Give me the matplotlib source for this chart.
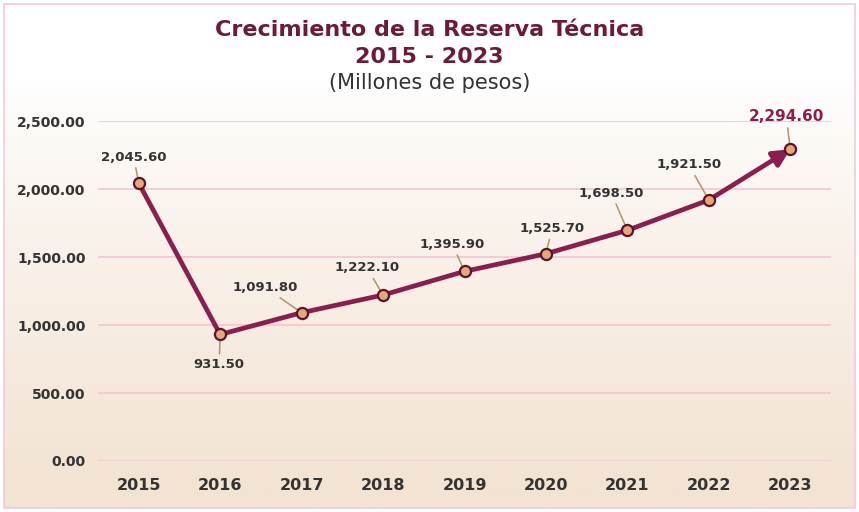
import numpy as np
import matplotlib
matplotlib.use("Agg")
import matplotlib.pyplot as plt
from matplotlib.patches import Rectangle

years = ["2015", "2016", "2017", "2018", "2019", "2020", "2021", "2022", "2023"]
reserva = [2045.6, 931.5, 1091.8, 1222.1, 1395.9, 1525.7, 1698.5, 1921.5, 2294.6]
y_ticks = [0, 500, 1000, 1500, 2000, 2500]

# label offsets in pixels (dx, dy) from each point
offsets = [(-5, 26), (-1, -30), (-36, 25), (-16, 27), (-12, 27),
           (6, 25), (-16, 37), (-20, 35), (-4, 33)]

maroon = "#8c1d4f"
title_col = "#6e1a36"
text_col = "#333333"

plt.rcParams["font.family"] = ["DejaVu Sans"]

fig = plt.figure(figsize=(8.59, 5.12), dpi=100)

# background: white at top fading to beige at bottom, thin pink border
bg = fig.add_axes([0, 0, 1, 1], zorder=-10)
bg.set_xlim(0, 1)
bg.set_ylim(0, 1)
bg.axis("off")
r = np.linspace(0, 1, 256).reshape(-1, 1)
c_top = np.array([1.0, 1.0, 1.0])
c_bot = np.array([0xf3, 0xe3, 0xd3]) / 255
t = np.clip((r - 0.15) / 0.8, 0, 1) ** 0.85
img = c_top + (c_bot - c_top) * t
x0, y0 = 4 / 859, 4 / 512
bg.imshow(img.reshape(256, 1, 3), extent=[x0, 1 - x0, y0, 1 - y0],
          aspect="auto", origin="upper")
bg.add_patch(Rectangle((x0, y0), 1 - 2 * x0, 1 - 2 * y0,
                       fill=False, edgecolor="#f2cbd8", linewidth=1.2))

ax = fig.add_axes([98 / 859, 1 - 461 / 512, 733 / 859, 340 / 512])
ax.set_facecolor("none")
x = np.arange(len(years))

ax.set_xlim(-0.5, len(years) - 0.5)
ax.set_ylim(0, 2503)
ax.set_yticks(y_ticks)
ax.set_yticklabels([f"{v:,.2f}" for v in y_ticks], fontsize=10, fontweight="bold", color=text_col)
ax.set_xticks(x)
ax.set_xticklabels(years, fontsize=11.5, fontweight="bold", color=text_col)
ax.tick_params(axis="both", length=0)
ax.tick_params(axis="y", pad=9)
ax.tick_params(axis="x", pad=12)
for s in ax.spines.values():
    s.set_visible(False)
ax.grid(axis="y", color="#f2c6d3", linewidth=1.2)
ax.set_axisbelow(True)

ax.plot(x[:-1], reserva[:-1], color=maroon, linewidth=3.4, zorder=3, solid_capstyle="round")
ax.annotate("", xy=(x[-1], reserva[-1]), xytext=(x[-2], reserva[-2]),
            arrowprops=dict(arrowstyle="-|>,head_length=1.0,head_width=0.5",
                            color=maroon, linewidth=3.4, shrinkA=0, shrinkB=0),
            zorder=3)
ax.plot(x, reserva, linestyle="none", marker="o", markersize=8,
        markerfacecolor="#e6a879", markeredgecolor="#5c1228", markeredgewidth=1.6, zorder=5)

for i, (v, (dx, dy)) in enumerate(zip(reserva, offsets)):
    last = i == len(reserva) - 1
    ax.annotate(f"{v:,.2f}", xy=(x[i], v), xytext=(dx, dy), textcoords="offset pixels",
                ha="center", va="center",
                fontsize=11 if last else 9.5, fontweight="bold",
                color=maroon if last else text_col,
                arrowprops=dict(arrowstyle="-", color="#b09464", linewidth=1.1,
                                shrinkA=1, shrinkB=2),
                zorder=4)

fig.text(0.5, 1 - 30 / 512, "Crecimiento de la Reserva Técnica", ha="center", va="center",
         fontsize=16, fontweight="bold", color=title_col)
fig.text(0.5, 1 - 57 / 512, "2015 - 2023", ha="center", va="center",
         fontsize=16, fontweight="bold", color=title_col)
fig.text(0.5, 1 - 83 / 512, "(Millones de pesos)", ha="center", va="center",
         fontsize=15, color=text_col)

fig.savefig("out.png", dpi=100)
